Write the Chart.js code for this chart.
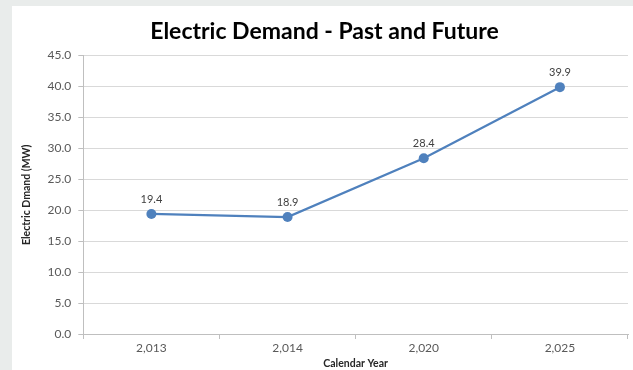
<!DOCTYPE html>
<html>
<head>
<meta charset="utf-8">
<script src="https://cdn.jsdelivr.net/npm/chart.js@4/dist/chart.umd.min.js"></script>
<style>
    html, body { margin: 0; padding: 0; }
    body { width: 633px; height: 370px; background: #e9eceb; position: relative; overflow: hidden; }
    .chart-box { position: absolute; left: 12px; top: 6px; width: 621px; height: 364px; background: #ffffff; }
</style>
</head>
<body>
<div class="chart-box"><canvas id="demand-chart" width="621" height="364"></canvas></div>
<script>
// Datos del gráfico
const years = ['2,013', '2,014', '2,020', '2,025'];
const demandMW = [19.4, 18.9, 28.4, 39.9];
const yTicks = [0, 5, 10, 15, 20, 25, 30, 35, 40, 45];

const fontFamily = 'Lato, "Open Sans", sans-serif';

// Etiquetas de valor encima de cada punto
const valueLabels = {
    id: 'valueLabels',
    afterDatasetsDraw(chart) {
        const ctx = chart.ctx;
        const meta = chart.getDatasetMeta(0);
        ctx.save();
        ctx.font = '11px ' + fontFamily;
        ctx.fillStyle = '#404040';
        ctx.textAlign = 'center';
        ctx.textBaseline = 'bottom';
        meta.data.forEach((point, i) => {
            ctx.fillText(demandMW[i].toFixed(1), point.x, point.y - 9);
        });
        ctx.restore();
    }
};

const demandChart = new Chart(document.getElementById('demand-chart'), {
    type: 'line',
    data: {
        labels: years,
        datasets: [{
            label: 'Electric Demand',
            data: demandMW,
            borderColor: '#4f81bd',
            backgroundColor: '#4f81bd',
            borderWidth: 2.25,
            pointRadius: 5,
            pointBorderWidth: 0,
            tension: 0
        }]
    },
    options: {
        responsive: false,
        animation: false,
        layout: { padding: { top: 12, right: 4, left: 8, bottom: 0 } },
        plugins: {
            legend: { display: false },
            tooltip: { enabled: false },
            title: {
                display: true,
                text: 'Electric Demand - Past and Future',
                color: '#000000',
                font: { family: fontFamily, size: 23, weight: 'bold' },
                padding: { top: 0, bottom: 10 }
            }
        },
        scales: {
            x: {
                offset: true,
                grid: { offset: true, drawOnChartArea: false, drawTicks: true, tickLength: 5, color: '#bfbfbf' },
                border: { color: '#bfbfbf' },
                ticks: { color: '#595959', font: { family: fontFamily, size: 12 }, padding: 2 },
                title: {
                    display: true,
                    text: 'Calendar Year',
                    color: '#262626',
                    font: { family: fontFamily, size: 10.5, weight: 'bold' },
                    padding: { top: 0, bottom: 0 }
                }
            },
            y: {
                min: 0,
                max: 45,
                afterBuildTicks: axis => { axis.ticks = yTicks.map(v => ({ value: v })); },
                grid: { color: '#d9d9d9', tickLength: 5, tickColor: '#bfbfbf' },
                border: { color: '#bfbfbf' },
                ticks: {
                    color: '#595959',
                    font: { family: fontFamily, size: 12 },
                    padding: 7,
                    callback: value => Number(value).toFixed(1)
                },
                title: {
                    display: true,
                    text: 'Electric Dmand (MW)',
                    color: '#262626',
                    font: { family: fontFamily, size: 10.5, weight: 'bold' },
                    padding: { top: 0, bottom: 8 }
                }
            }
        }
    },
    plugins: [valueLabels]
});
</script>
</body>
</html>
